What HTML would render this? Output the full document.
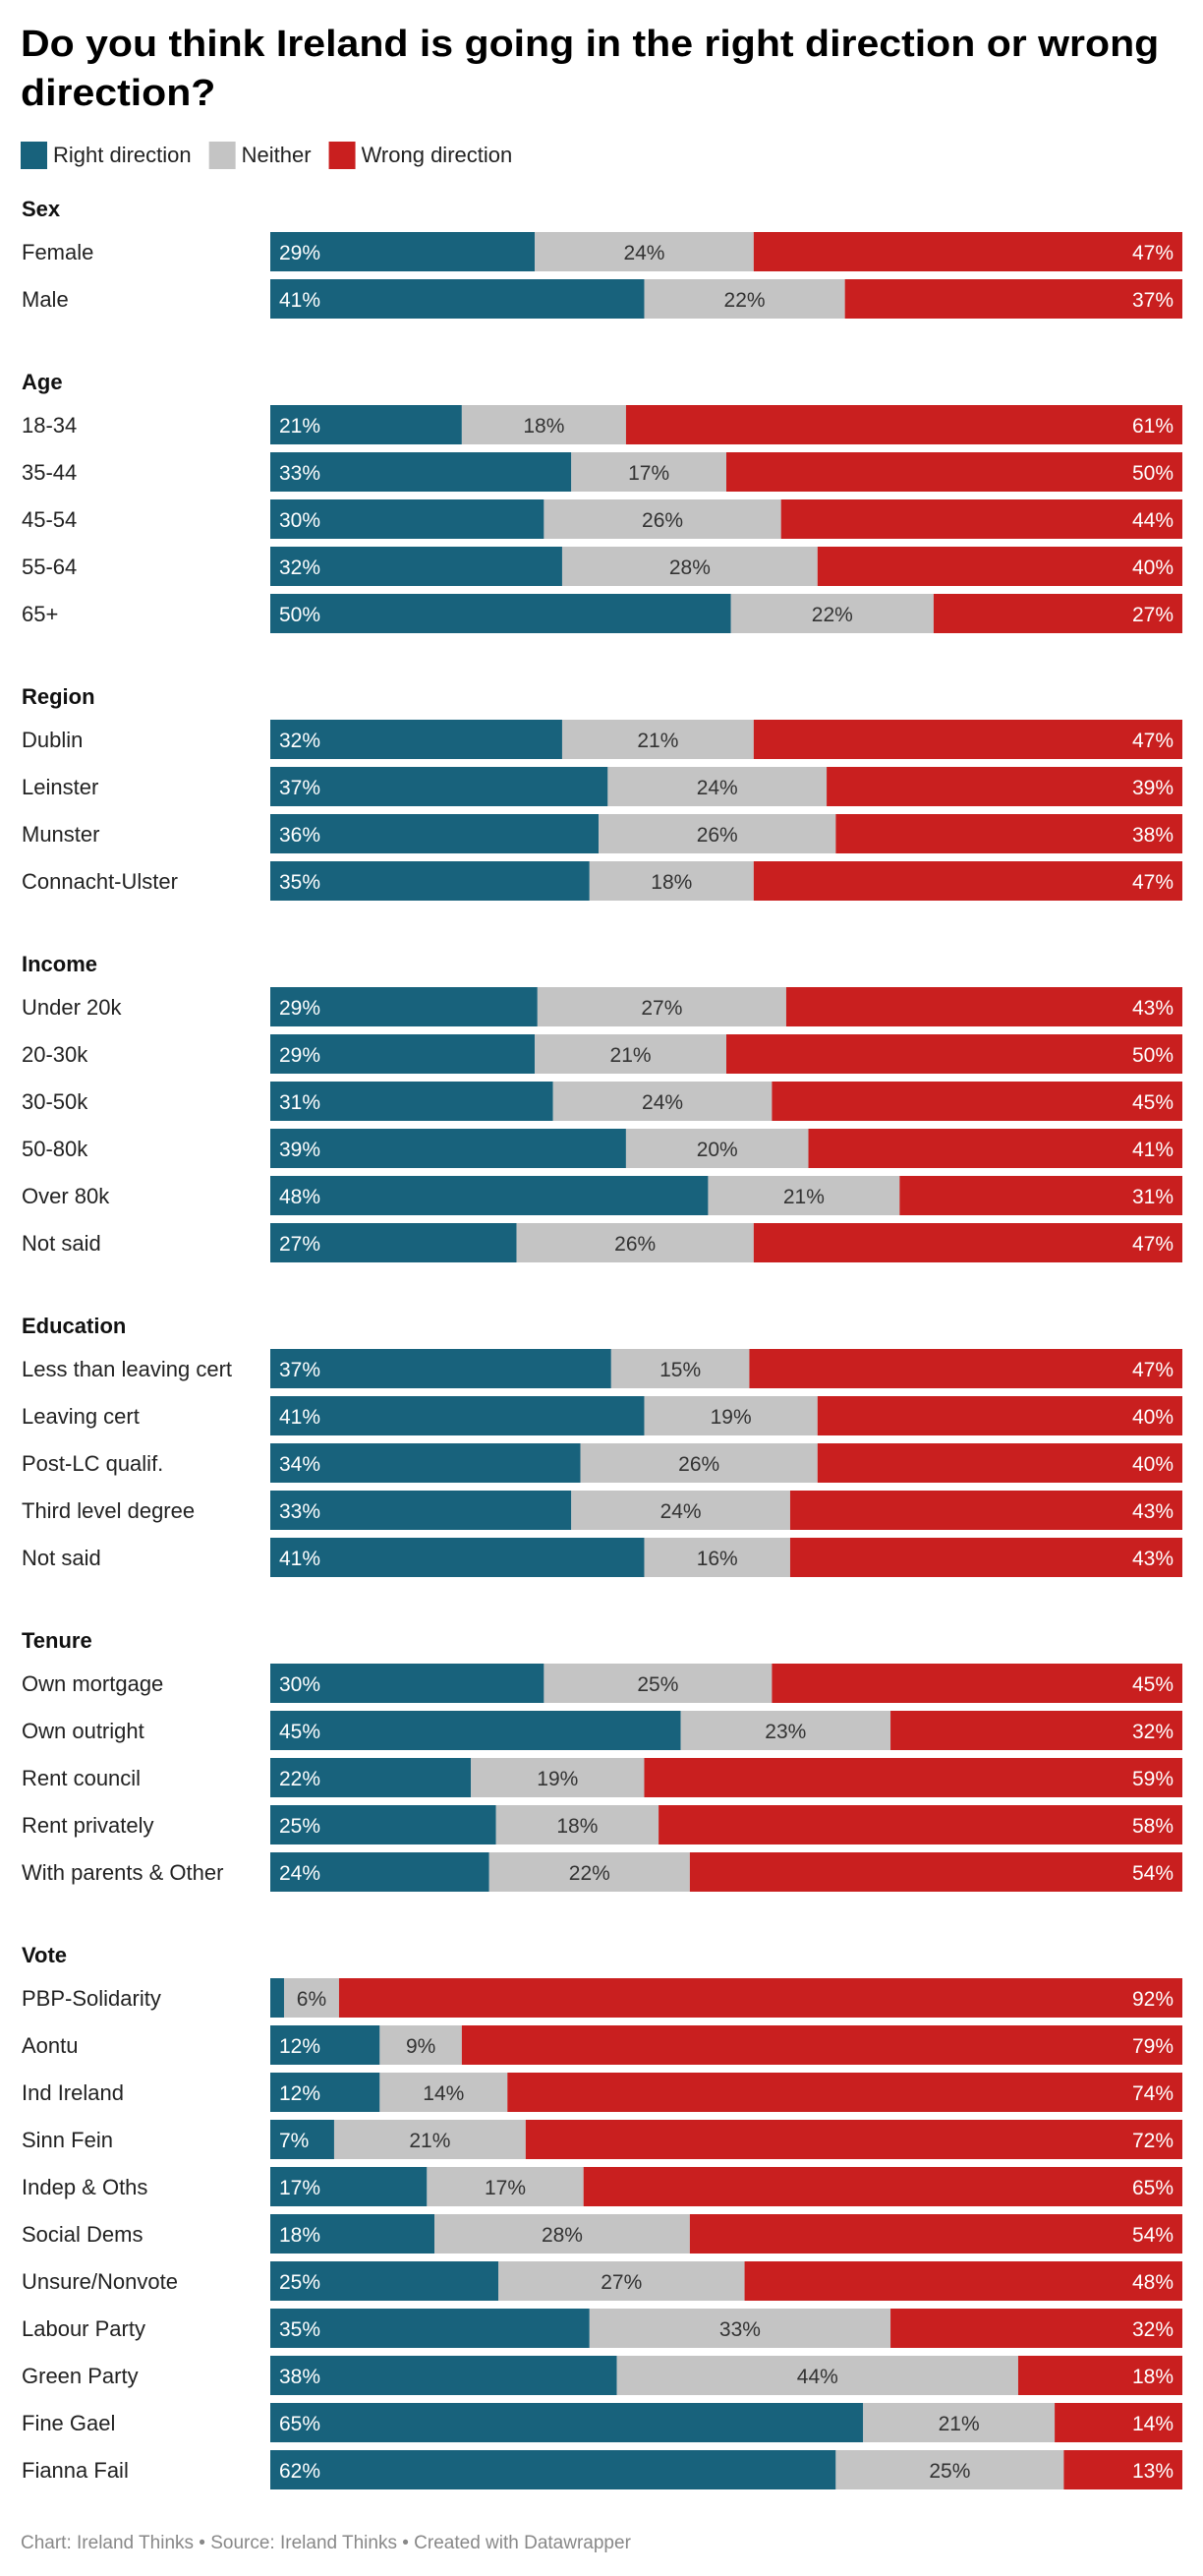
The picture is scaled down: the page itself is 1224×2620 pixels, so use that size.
<!DOCTYPE html>
<html><head><meta charset="utf-8">
<style>
body{margin:0;background:#fff;font-family:"Liberation Sans",sans-serif;}
#wrap{position:relative;width:1224px;height:2620px;}
h1{position:absolute;left:21px;top:20px;margin:0;font-size:38px;line-height:50px;font-weight:bold;color:#000;letter-spacing:0;white-space:nowrap;transform:scaleX(1.08);transform-origin:0 0}
</style></head><body>
<div id="wrap">
<h1>Do you think Ireland is going in the right direction or wrong<br>direction?</h1>
<svg id="chart" width="1224" height="2620" style="position:absolute;left:0;top:0"></svg>
</div>
<script>
const groups = ["Sex","Age","Region","Income","Education","Tenure","Vote"];
const groupSizes = [2,5,4,6,5,5,11];
const categories = ["Female","Male","18-34","35-44","45-54","55-64","65+","Dublin","Leinster","Munster","Connacht-Ulster","Under 20k","20-30k","30-50k","50-80k","Over 80k","Not said","Less than leaving cert","Leaving cert","Post-LC qualif.","Third level degree","Not said","Own mortgage","Own outright","Rent council","Rent privately","With parents & Other","PBP-Solidarity","Aontu","Ind Ireland","Sinn Fein","Indep & Oths","Social Dems","Unsure/Nonvote","Labour Party","Green Party","Fine Gael","Fianna Fail"];
const rightVals = [29,41,21,33,30,32,50,32,37,36,35,29,29,31,39,48,27,37,41,34,33,41,30,45,22,25,24,1.5,12,12,7,17,18,25,35,38,65,62];
const neitherVals = [24,22,18,17,26,28,22,21,24,26,18,27,21,24,20,21,26,15,19,26,24,16,25,23,19,18,22,6,9,14,21,17,28,27,33,44,21,25];
const wrongVals = [47,37,61,50,44,40,27,47,39,38,47,43,50,45,41,31,47,47,40,40,43,43,45,32,59,58,54,92,79,74,72,65,54,48,32,18,14,13];
const seriesNames = ["Right direction","Neither","Wrong direction"];
const colors = ["#18627c","#c4c4c4","#c91f1f"];

const svg = document.getElementById('chart');
const NS = 'http://www.w3.org/2000/svg';
const X0 = 275, X1 = 1203;
function xScale(frac){ return X0 + frac*(X1-X0); }
function mk(tag, attrs, txt){ const e=document.createElementNS(NS,tag); for(const k in attrs) e.setAttribute(k,attrs[k]); if(txt!=null) e.textContent=txt; svg.appendChild(e); return e; }

let lx = 21;
seriesNames.forEach((s,i)=>{
  const r = mk('rect',{x:lx,y:144,width:27,height:28,fill:colors[i]});
  
  
  const t = mk('text',{x:lx+33,y:165,'font-size':22,fill:'#222'}, s);
  
  
  lx += 33 + t.getComputedTextLength() + 18;
});

let H = 212, idx = 0;
groups.forEach((g,gi)=>{
  const gt = mk('text',{x:22,y:H+8,'font-size':22,'font-weight':'bold',fill:'#111'}, g);
  
  
  for(let j=0;j<groupSizes[gi];j++,idx++){
    const top = H+24+j*48;
    const lab = mk('text',{x:22,y:top+28,'font-size':22,fill:'#222'}, categories[idx]);
    
    
    const vals=[rightVals[idx],neitherVals[idx],wrongVals[idx]];
    const tot=vals[0]+vals[1]+vals[2];
    let cum=0;
    vals.forEach((v,k)=>{
      const xa=xScale(cum/tot), xb=xScale((cum+v)/tot);
      const r=mk('rect',{x:xa,y:top,width:Math.max(0,xb-xa),height:40,fill:colors[k]});
      
      
      if(v>=3){
        let tx,anchor;
        if(k===0){tx=xa+9;anchor='start';}
        else if(k===1){tx=(xa+xb)/2;anchor='middle';}
        else {tx=xb-9;anchor='end';}
        const t=mk('text',{x:tx,y:top+28,'font-size':21,'text-anchor':anchor,fill:k===1?'#333':'#fff'}, Math.round(v)+'%');
        
        
      }
      cum+=v;
    });
  }
  H = H + 128 + (groupSizes[gi]-1)*48;
});
const f = mk('text',{x:21,y:2592,'font-size':19,fill:'#888'}, 'Chart: Ireland Thinks • Source: Ireland Thinks • Created with Datawrapper');


</script>
</body></html>
